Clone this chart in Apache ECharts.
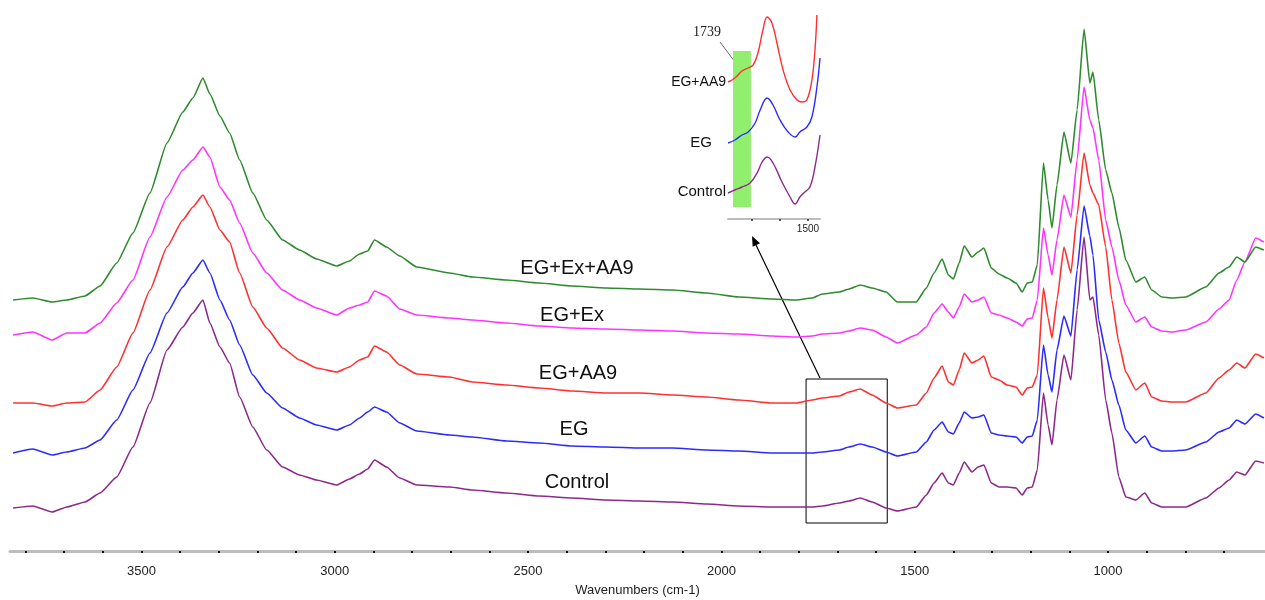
<!DOCTYPE html>
<html><head><meta charset="utf-8">
<script src="https://cdn.jsdelivr.net/npm/echarts@6/dist/echarts.min.js"></script>
<style>html,body{margin:0;padding:0;background:#fff}#chart{width:1265px;height:600px}</style>
</head><body><div id="chart"></div>
<script>
// Wavenumbers (cm-1) at which the spectra were read
const wavenumbers = [3832,3781,3731,3693,3646,3607,3564,3522,3478,3434,
 3393,3367,3341,3323,3297,3272,3246,3212,3176,3135,
 3091,3047,2995,2962,2936,2915,2897,2866,2832,2788,
 2703,2644,2556,2471,2386,2298,2210,2126,2038,1955,
 1869,1807,1765,1739,1695,1670,1641,1610,1574,1545,
 1496,1470,1450,1429,1413,1400,1385,1372,1352,1336,
 1321,1302,1282,1261,1238,1222,1209,1196,1183,1167,
 1155,1145,1132,1114,1096,1080,1062,1047,1039,1024,
 1006,990,972,954,928,905,887,861,835,799,
 747,713,687,667,646,618,597];

// Absorbance (arbitrary units, offset-stacked)
const egExAA9 = [0.251,0.253,0.249,0.251,0.255,0.265,0.288,0.318,0.358,0.408,
 0.439,0.453,0.473,0.457,0.435,0.418,0.391,0.358,0.331,0.311,
 0.301,0.292,0.285,0.290,0.297,0.300,0.311,0.304,0.295,0.284,
 0.278,0.274,0.271,0.268,0.265,0.263,0.262,0.261,0.258,0.254,
 0.252,0.251,0.253,0.257,0.259,0.262,0.266,0.263,0.259,0.249,
 0.249,0.263,0.278,0.292,0.276,0.272,0.288,0.305,0.294,0.299,
 0.303,0.283,0.277,0.273,0.268,0.259,0.268,0.269,0.286,0.388,
 0.351,0.323,0.366,0.419,0.388,0.441,0.522,0.468,0.479,0.431,
 0.381,0.358,0.324,0.291,0.269,0.274,0.261,0.254,0.253,0.254,
 0.264,0.278,0.284,0.294,0.289,0.304,0.301];
const egEx = [0.216,0.219,0.211,0.218,0.218,0.228,0.248,0.271,0.314,0.354,
 0.381,0.391,0.404,0.394,0.364,0.351,0.328,0.298,0.278,0.261,
 0.251,0.243,0.236,0.243,0.246,0.249,0.260,0.255,0.242,0.236,
 0.233,0.231,0.228,0.225,0.223,0.222,0.221,0.220,0.218,0.217,
 0.215,0.214,0.215,0.217,0.218,0.220,0.223,0.221,0.214,0.208,
 0.216,0.224,0.238,0.247,0.239,0.233,0.244,0.257,0.249,0.251,
 0.254,0.238,0.236,0.233,0.229,0.225,0.232,0.233,0.251,0.323,
 0.296,0.276,0.311,0.356,0.334,0.391,0.464,0.431,0.423,0.391,
 0.331,0.304,0.271,0.246,0.229,0.234,0.224,0.220,0.219,0.221,
 0.229,0.242,0.251,0.271,0.289,0.313,0.309];
const egAA9 = [0.148,0.148,0.145,0.148,0.149,0.161,0.184,0.218,0.261,0.304,
 0.331,0.344,0.356,0.344,0.321,0.309,0.278,0.244,0.223,0.203,
 0.191,0.183,0.179,0.184,0.191,0.194,0.205,0.199,0.186,0.177,
 0.174,0.169,0.166,0.163,0.160,0.158,0.158,0.156,0.154,0.151,
 0.148,0.148,0.151,0.153,0.155,0.159,0.162,0.156,0.148,0.143,
 0.146,0.158,0.173,0.185,0.169,0.166,0.181,0.198,0.188,0.191,
 0.195,0.174,0.171,0.166,0.164,0.156,0.163,0.164,0.176,0.263,
 0.233,0.213,0.251,0.304,0.278,0.336,0.398,0.366,0.358,0.346,
 0.304,0.251,0.208,0.179,0.161,0.168,0.154,0.150,0.149,0.149,
 0.158,0.173,0.181,0.188,0.183,0.197,0.193];
const eg = [0.098,0.102,0.096,0.099,0.103,0.111,0.131,0.161,0.198,0.238,
 0.264,0.278,0.291,0.278,0.251,0.231,0.206,0.176,0.158,0.143,
 0.133,0.126,0.121,0.126,0.133,0.139,0.144,0.139,0.128,0.120,
 0.116,0.114,0.110,0.108,0.105,0.104,0.103,0.103,0.101,0.100,
 0.098,0.098,0.098,0.099,0.101,0.104,0.107,0.104,0.099,0.095,
 0.099,0.109,0.121,0.129,0.119,0.117,0.128,0.139,0.133,0.134,
 0.136,0.118,0.116,0.115,0.114,0.108,0.114,0.115,0.131,0.206,
 0.176,0.159,0.201,0.235,0.215,0.281,0.345,0.315,0.296,0.231,
 0.199,0.171,0.146,0.121,0.108,0.115,0.104,0.100,0.100,0.101,
 0.109,0.119,0.123,0.131,0.127,0.137,0.133];
const control = [0.043,0.045,0.039,0.044,0.049,0.058,0.074,0.104,0.148,0.201,
 0.224,0.238,0.251,0.228,0.204,0.188,0.154,0.124,0.101,0.084,
 0.076,0.071,0.066,0.072,0.077,0.082,0.091,0.084,0.073,0.066,
 0.064,0.061,0.058,0.055,0.053,0.051,0.050,0.049,0.047,0.045,
 0.044,0.044,0.044,0.045,0.048,0.050,0.053,0.049,0.043,0.040,
 0.044,0.056,0.068,0.078,0.068,0.066,0.078,0.089,0.079,0.084,
 0.086,0.068,0.064,0.064,0.063,0.056,0.063,0.064,0.081,0.158,
 0.126,0.106,0.151,0.196,0.171,0.241,0.314,0.251,0.254,0.216,
 0.151,0.118,0.074,0.054,0.051,0.058,0.048,0.044,0.044,0.044,
 0.053,0.063,0.071,0.079,0.076,0.090,0.088];

// Inset (zoom of 1790-1455 cm-1)
const insetRedX = [1786,1761,1736,1714,1696,1679,1661,1646,1629,1611,1589,1564,1539,1521,1504,1486,1475,1468];
const insetRed  = [1.37,1.41,1.48,1.51,1.54,1.66,1.89,2.02,1.96,1.76,1.49,1.29,1.19,1.17,1.19,1.39,1.69,2.04];
const insetBlueX = [1786,1761,1736,1714,1689,1671,1646,1625,1600,1571,1546,1529,1504,1486,1468,1457];
const insetBlue  = [0.76,0.79,0.84,0.87,0.96,1.09,1.21,1.14,0.99,0.87,0.82,0.87,0.92,1.02,1.32,1.61];
const insetPurpleX = [1786,1761,1736,1707,1682,1664,1646,1625,1593,1564,1546,1529,1511,1493,1475,1457];
const insetPurple  = [0.26,0.29,0.32,0.36,0.46,0.57,0.62,0.56,0.37,0.22,0.15,0.22,0.27,0.32,0.52,0.84];

const tickLabels = [1000,1500,2000,2500,3000,3500];
const minorTicks = [700,800,900,1000,1100,1200,1300,1400,1500,1600,1700,1800,1900,2000,2100,2200,2300,2400,2500,2600,2700,2800,2900,3000,3100,3200,3300,3400,3500,3600,3700,3800];
const insetTicks = [1700,1600,1500];
const insetTickLabels = [1500];

const FONT = '"Liberation Sans", Arial, sans-serif';
const zip = (xs, ys) => xs.map((x, i) => [x, ys[i]]);
const chart = echarts.init(document.getElementById('chart'), null, {renderer: 'canvas'});

function mainLine(name, data, color, extra) {
  return Object.assign({
    name, type: 'line', xAxisIndex: 0, yAxisIndex: 0, data: zip(wavenumbers, data),
    showSymbol: false, symbol: 'none', smooth: 0.15, smoothMonotone: 'x',
    lineStyle: {color, width: 1.6}, itemStyle: {color}, z: 3
  }, extra || {});
}
function insetLine(name, xs, ys, color, extra) {
  return Object.assign({
    name: name + ' (inset)', type: 'line', xAxisIndex: 1, yAxisIndex: 1, data: zip(xs, ys),
    showSymbol: false, symbol: 'none', smooth: 0.4,
    lineStyle: {color, width: 1.4}, itemStyle: {color}, z: 3
  }, extra || {});
}

const option = {
  animation: false,
  backgroundColor: '#fff',
  grid: [
    {left: 10, width: 1255, top: 0, height: 551, outerBoundsMode: 'none'},
    {left: 728, width: 92, top: 0, height: 219, outerBoundsMode: 'none'}
  ],
  xAxis: [
    {type: 'value', gridIndex: 0, min: 594, max: 3840, inverse: true,
     splitLine: {show: false},
     axisLine: {show: true, onZero: false, lineStyle: {color: '#bdbdbd', width: 3}},
     axisTick: {show: true, customValues: minorTicks, length: 2, lineStyle: {color: '#111', width: 2}},
     axisLabel: {customValues: tickLabels, margin: 14, color: '#222', fontSize: 13, fontFamily: FONT,
                 formatter: v => String(v)},
     name: 'Wavenumbers (cm-1)', nameLocation: 'middle', nameGap: 33,
     nameTextStyle: {color: '#222', fontSize: 13, fontFamily: FONT}},
    {type: 'value', gridIndex: 1, min: 1457, max: 1786, inverse: true,
     splitLine: {show: false},
     axisLine: {show: true, onZero: false, lineStyle: {color: '#bdbdbd', width: 2}},
     axisTick: {show: true, customValues: insetTicks, length: 2, lineStyle: {color: '#222', width: 1.5}},
     axisLabel: {customValues: insetTickLabels, margin: 5, color: '#222', fontSize: 10, fontFamily: FONT,
                 formatter: v => String(v)}}
  ],
  yAxis: [
    {type: 'value', gridIndex: 0, min: 0, max: 0.551, show: false},
    {type: 'value', gridIndex: 1, min: 0, max: 2.19, show: false}
  ],
  series: [
    mainLine('Control', control, '#8b2a8b'),
    mainLine('EG', eg, '#2b2bff', {
      markArea: {silent: true,
        itemStyle: {color: 'rgba(0,0,0,0)', borderColor: '#000', borderWidth: 1},
        data: [[{coord: [1781, 0.172]}, {coord: [1571, 0.028]}]]}
    }),
    mainLine('EG+AA9', egAA9, '#ff3030'),
    mainLine('EG+Ex', egEx, '#ff33ff'),
    mainLine('EG+Ex+AA9', egExAA9, '#2e8b2e'),
    insetLine('Control', insetPurpleX, insetPurple, '#8b2a8b', {
      markArea: {silent: true, itemStyle: {color: '#92ee6e'},
        data: [[{coord: [1768, 1.68]}, {coord: [1704, 0.12]}]]}
    }),
    insetLine('EG', insetBlueX, insetBlue, '#2b2bff'),
    insetLine('EG+AA9', insetRedX, insetRed, '#ff3030')
  ],
  graphic: [
    {type: 'text', x: 577, y: 268, style: {text: 'EG+Ex+AA9', fill: '#111', font: '20px ' + FONT, align: 'center', verticalAlign: 'middle'}},
    {type: 'text', x: 572, y: 315, style: {text: 'EG+Ex', fill: '#111', font: '20px ' + FONT, align: 'center', verticalAlign: 'middle'}},
    {type: 'text', x: 578, y: 373, style: {text: 'EG+AA9', fill: '#111', font: '20px ' + FONT, align: 'center', verticalAlign: 'middle'}},
    {type: 'text', x: 574, y: 429, style: {text: 'EG', fill: '#111', font: '20px ' + FONT, align: 'center', verticalAlign: 'middle'}},
    {type: 'text', x: 577, y: 482, style: {text: 'Control', fill: '#111', font: '20px ' + FONT, align: 'center', verticalAlign: 'middle'}},
    {type: 'text', x: 726, y: 82, style: {text: 'EG+AA9', fill: '#111', font: '14px ' + FONT, align: 'right', verticalAlign: 'middle'}},
    {type: 'text', x: 701, y: 143, style: {text: 'EG', fill: '#111', font: '15px ' + FONT, align: 'center', verticalAlign: 'middle'}},
    {type: 'text', x: 726, y: 192, style: {text: 'Control', fill: '#111', font: '15px ' + FONT, align: 'right', verticalAlign: 'middle'}},
    {type: 'text', x: 707, y: 32, style: {text: '1739', fill: '#222', font: '14px "Liberation Serif", "Times New Roman", serif', align: 'center', verticalAlign: 'middle'}},
    {type: 'line', shape: {x1: 720, y1: 42, x2: 741, y2: 70}, style: {stroke: '#444', lineWidth: 0.8}},
    {type: 'line', shape: {x1: 820, y1: 378, x2: 755.5, y2: 244}, style: {stroke: '#000', lineWidth: 1.2}},
    {type: 'polygon', shape: {points: [[752, 236], [760, 243.3], [752.7, 246.8]]}, style: {fill: '#000'}}
  ]
};
chart.setOption(option);
</script>
</body></html>
